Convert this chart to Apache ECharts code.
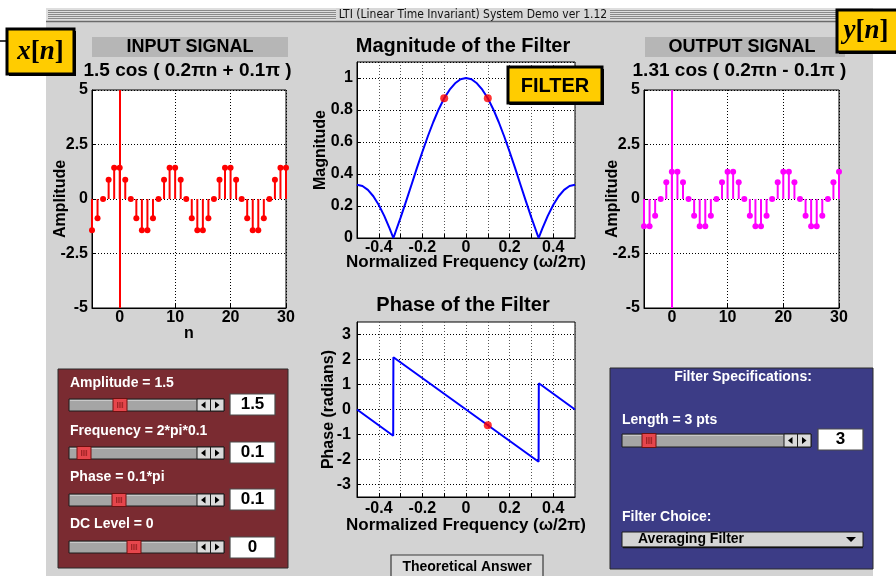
<!DOCTYPE html>
<html>
<head>
<meta charset="utf-8">
<title>LTI System Demo</title>
<script src="https://cdn.jsdelivr.net/npm/echarts@6/dist/echarts.min.js"></script>
<style>
  html, body { margin: 0; padding: 0; background: #fff; }
  #main { width: 896px; height: 576px; }
</style>
</head>
<body>
<div id="main"></div>
<script>
// ---- signal data ----
const sampleIndex = [-5, -4, -3, -2, -1, 0, 1, 2, 3, 4, 5, 6, 7, 8, 9, 10, 11, 12, 13, 14,
  15, 16, 17, 18, 19, 20, 21, 22, 23, 24, 25, 26, 27, 28, 29, 30];
const inputSignal = [-1.43, -0.88, 0, 0.88, 1.43, 1.43, 0.88, 0, -0.88, -1.43,
  -1.43, -0.88, 0, 0.88, 1.43, 1.43, 0.88, 0, -0.88, -1.43,
  -1.43, -0.88, 0, 0.88, 1.43, 1.43, 0.88, 0, -0.88, -1.43,
  -1.43, -0.88, 0, 0.88, 1.43, 1.43];
const outputSignal = [-1.25, -1.25, -0.77, 0, 0.77, 1.25, 1.25, 0.77, 0, -0.77,
  -1.25, -1.25, -0.77, 0, 0.77, 1.25, 1.25, 0.77, 0, -0.77,
  -1.25, -1.25, -0.77, 0, 0.77, 1.25, 1.25, 0.77, 0, -0.77,
  -1.25, -1.25, -0.77, 0, 0.77, 1.25];

// ---- filter response data ----
const magFreq = [-0.5, -0.475, -0.45, -0.425, -0.4, -0.375, -0.35, -0.3333, -0.325, -0.3,
  -0.275, -0.25, -0.225, -0.2, -0.175, -0.15, -0.125, -0.1, -0.075, -0.05, -0.025, 0,
  0.025, 0.05, 0.075, 0.1, 0.125, 0.15, 0.175, 0.2, 0.225, 0.25, 0.275, 0.3, 0.325,
  0.3333, 0.35, 0.375, 0.4, 0.425, 0.45, 0.475, 0.5];
const magValues = [0.333, 0.325, 0.301, 0.261, 0.206, 0.138, 0.059, 0, 0.031, 0.127,
  0.229, 0.333, 0.438, 0.539, 0.636, 0.725, 0.805, 0.873, 0.927, 0.967, 0.992, 1,
  0.992, 0.967, 0.927, 0.873, 0.805, 0.725, 0.636, 0.539, 0.438, 0.333, 0.229, 0.127, 0.031,
  0, 0.059, 0.138, 0.206, 0.261, 0.301, 0.325, 0.333];
const phaseFreq = [-0.5, -0.334, -0.3335, -0.333, 0.333, 0.3335, 0.334, 0.5];
const phaseValues = [0, -1.05, 0.55, 2.09, -2.09, -0.48, 1.05, 0];
const markFreq = [-0.1, 0.1];
const markMag = [0.873, 0.873];
const markPhaseFreq = [0.1];
const markPhase = [-0.63];

// ---- tick labels ----
const sampleTicks = [0, 10, 20, 30];
const phaseTicks = [-3, -2, -1, 0, 1, 2, 3];

const SANS = '"Liberation Sans", Arial, Helvetica, sans-serif';
const SERIF = '"Liberation Serif", "Times New Roman", serif';

const zip = (a, b) => a.map((v, i) => [v, b[i]]);

// ---- interface panels drawn as graphic elements ----
const gui = [];
function rect(x, y, w, h, fill, stroke, lw, z) {
  gui.push({ type: 'rect', silent: true, z: z == null ? 50 : z,
    shape: { x: x, y: y, width: w, height: h },
    style: { fill: fill || 'none', stroke: stroke || null, lineWidth: lw || 0 } });
}
function seg(x1, y1, x2, y2, stroke, lw, z) {
  gui.push({ type: 'line', silent: true, z: z == null ? 51 : z,
    shape: { x1: x1, y1: y1, x2: x2, y2: y2 },
    style: { stroke: stroke, lineWidth: lw || 1 } });
}
function poly(points, fill, z) {
  gui.push({ type: 'polygon', silent: true, z: z == null ? 52 : z,
    shape: { points: points }, style: { fill: fill } });
}
function label(str, x, y, font, fill, align, z) {
  gui.push({ type: 'text', silent: true, z: z == null ? 60 : z,
    style: { text: str, x: x, y: y, font: font, fill: fill,
      align: align || 'left', verticalAlign: 'middle',
      textAlign: align || 'left', textVerticalAlign: 'middle' } });
}
function slider(x, y, w, h, thumbX) {
  rect(x, y, w, h, '#a5a5a5', '#1c1c1c', 1);
  seg(x + 1, y + 1.5, x + w - 28, y + 1.5, '#c9c9c9', 1);
  rect(x + w - 27, y, 13.5, h, '#dadada', '#1c1c1c', 1);
  rect(x + w - 13.5, y, 13.5, h, '#dadada', '#1c1c1c', 1);
  const cy = y + h / 2;
  poly([[x + w - 23, cy], [x + w - 18.5, cy - 3.5], [x + w - 18.5, cy + 3.5]], '#000');
  poly([[x + w - 4.5, cy], [x + w - 9, cy - 3.5], [x + w - 9, cy + 3.5]], '#000');
  rect(thumbX, y - 0.5, 14, h + 1, '#e6464c', '#6e1010', 1, 53);
  for (let k = 0; k < 4; k++) {
    seg(thumbX + 4.5 + k * 1.7, y + 3, thumbX + 4.5 + k * 1.7, y + h - 3, '#8e1c1c', 0.8, 54);
  }
}
function valueBox(x, y, w, h, str) {
  rect(x, y, w, h, '#ffffff', '#4a4a4a', 1.2);
  label(str, x + w / 2, y + h / 2, 'bold 17px ' + SANS, '#000', 'center');
}
function tagBox(x, y, w, h) {
  rect(x + 2, y + 2, w, h, '#000', null, 0, 70);
  rect(x, y, w, h, '#ffcc00', '#000', 3, 71);
}

// window body and title bar
rect(46, 8, 827, 568, '#d3d3d3', null, 0, -20);
rect(46, 8, 827, 13, '#dedede', null, 0, -19);
for (let k = 0; k < 5; k++) seg(48, 10.5 + 2 * k, 871, 10.5 + 2 * k, '#8a8a8a', 1, -18);
rect(336, 8, 274, 13, '#d8d8d8', null, 0, -17);
label('LTI (Linear Time Invariant) System Demo ver 1.12', 473, 15,
  '12px "Liberation Sans Narrow", "DejaVu Sans Condensed", ' + SANS, '#111', 'center', -16);
seg(46, 21.5, 873, 21.5, '#6a6a6a', 1.5, -16);

// signal headers
rect(92, 37, 196, 20, '#b6b6b6', null, 0, -15);
label('INPUT SIGNAL', 190, 47.5, 'bold 18px ' + SANS, '#000', 'center');
label('1.5 cos ( 0.2\u03c0n + 0.1\u03c0 )', 187.5, 71, 'bold 19px ' + SANS, '#000', 'center');
rect(645, 37, 200, 20, '#b6b6b6', null, 0, -15);
label('OUTPUT SIGNAL', 742, 47.5, 'bold 18px ' + SANS, '#000', 'center');
label('1.31 cos ( 0.2\u03c0n - 0.1\u03c0 )', 739.5, 71, 'bold 19px ' + SANS, '#000', 'center');

// plot titles
label('Magnitude of the Filter', 463, 46.5, 'bold 20px ' + SANS, '#000', 'center');
label('Phase of the Filter', 463, 305, 'bold 20px ' + SANS, '#000', 'center');

// x[n], y[n] and FILTER tags
seg(0, 41, 7, 41, '#000', 1.5, 69);
tagBox(7, 29, 67, 45);
gui.push({ type: 'text', silent: true, z: 72,
  style: { text: '{i|x}{r|[}{i|n}{r|]}', x: 40.5, y: 52, fill: '#000',
    align: 'center', verticalAlign: 'middle', textAlign: 'center', textVerticalAlign: 'middle',
    rich: { i: { font: 'italic bold 27px ' + SERIF, fill: '#000' },
            r: { font: 'bold 27px ' + SERIF, fill: '#000' } } } });
tagBox(837, 10, 70, 42);
gui.push({ type: 'text', silent: true, z: 72,
  style: { text: '{i|y}{r|[}{i|n}{r|]}', x: 866, y: 31, fill: '#000',
    align: 'center', verticalAlign: 'middle', textAlign: 'center', textVerticalAlign: 'middle',
    rich: { i: { font: 'italic bold 27px ' + SERIF, fill: '#000' },
            r: { font: 'bold 27px ' + SERIF, fill: '#000' } } } });
tagBox(508, 67, 94, 36);
gui.push({ type: 'text', silent: true, z: 72,
  style: { text: 'FILTER', x: 555, y: 86, font: 'bold 20px ' + SANS, fill: '#000',
    align: 'center', verticalAlign: 'middle', textAlign: 'center', textVerticalAlign: 'middle' } });

// input controls
rect(58, 369, 230, 199, '#7a2b31', '#2a2a2a', 1, 40);
const LBL = 'bold 14px ' + SANS;
label('Amplitude = 1.5', 70, 383, LBL, '#fff');
slider(69, 399, 155, 12, 113);
valueBox(230, 394, 45, 21, '1.5');
label('Frequency = 2*pi*0.1', 70, 431, LBL, '#fff');
slider(69, 447, 155, 12, 77);
valueBox(230, 442, 45, 21, '0.1');
label('Phase = 0.1*pi', 70, 477.5, LBL, '#fff');
slider(69, 494, 155, 12, 112);
valueBox(230, 489, 45, 21, '0.1');
label('DC Level = 0', 70, 524.5, LBL, '#fff');
slider(69, 541, 155, 12, 127);
valueBox(230, 537, 45, 21, '0');

// filter controls
rect(610, 368, 263, 201, '#3c3c86', '#2a2a2a', 1, 40);
label('Filter Specifications:', 743, 377.5, LBL, '#fff', 'center');
label('Length = 3 pts', 622, 420, LBL, '#fff');
slider(622, 434, 189, 13, 642);
valueBox(818, 429, 45, 21, '3');
label('Filter Choice:', 622, 517, LBL, '#fff');
rect(622, 532, 241, 15, '#d4d4d4', '#1c1c1c', 1);
seg(623, 547.5, 863, 547.5, '#111', 1.5);
label('Averaging Filter', 638, 539.5, 'bold 14px ' + SANS, '#000');
poly([[846, 537], [856, 537], [851, 542]], '#000');

// answer button
rect(391, 555, 152, 25, '#dadada', '#3a3a3a', 1.2);
label('Theoretical Answer', 467, 567, 'bold 14px ' + SANS, '#000', 'center');

// ---- axes ----
const tickFont = { color: '#000', fontFamily: SANS, fontWeight: 'bold', fontSize: 16 };
const nameFont = { color: '#000', fontFamily: SANS, fontWeight: 'bold', fontSize: 16 };
const freqNameFont = { color: '#000', fontFamily: SANS, fontWeight: 'bold', fontSize: 17 };
const blackLine = { onZero: false, lineStyle: { color: '#000', width: 1 } };
const hGrid = { show: true, lineStyle: { color: '#000', width: 1, type: [1, 2] } };
const vGrid = { show: true, lineStyle: { color: '#555', width: 1, type: [1, 2] } };
const freqLabel = (v) => {
  const k = Math.round(v * 10);
  if (k % 2 !== 0 || Math.abs(k) > 4) return '';
  return k === 0 ? '0' : (k / 10).toFixed(1);
};

function stemRenderer(color) {
  return function (params, api) {
    const p0 = api.coord([api.value(0), 0]);
    const p1 = api.coord([api.value(0), api.value(1)]);
    return { type: 'group', children: [
      { type: 'line', shape: { x1: p0[0], y1: p0[1], x2: p1[0], y2: p1[1] },
        style: { stroke: color, lineWidth: 2 } },
      { type: 'circle', shape: { cx: p1[0], cy: p1[1], r: 3 }, style: { fill: color } }
    ] };
  };
}

const option = {
  backgroundColor: '#ffffff',
  animation: false,
  graphic: { elements: gui },
  grid: [
    { left: 92, top: 90, width: 194, height: 218, show: true, backgroundColor: '#fff', borderColor: '#000', borderWidth: 1 },
    { left: 357, top: 62, width: 218, height: 176, show: true, backgroundColor: '#fff', borderColor: '#000', borderWidth: 1 },
    { left: 644, top: 90, width: 195, height: 218, show: true, backgroundColor: '#fff', borderColor: '#000', borderWidth: 1 },
    { left: 357, top: 322, width: 218, height: 175, show: true, backgroundColor: '#fff', borderColor: '#000', borderWidth: 1 }
  ],
  xAxis: [
    { gridIndex: 0, type: 'value', min: -5, max: 30, name: 'n', nameLocation: 'middle', nameGap: 18,
      nameMoveOverlap: false, nameTextStyle: nameFont, axisLine: blackLine,
      axisTick: { inside: true, length: 4, customValues: sampleTicks, lineStyle: { color: '#000' } },
      axisLabel: Object.assign({ customValues: sampleTicks, margin: 2 }, tickFont), splitLine: hGrid },
    { gridIndex: 1, type: 'value', min: -0.5, max: 0.5, interval: 0.1,
      name: 'Normalized Frequency (\u03c9/2\u03c0)', nameLocation: 'middle', nameGap: 16,
      nameMoveOverlap: false, nameTextStyle: freqNameFont, axisLine: blackLine,
      axisTick: { inside: true, length: 4, lineStyle: { color: '#000' } },
      axisLabel: Object.assign({ margin: 2, formatter: freqLabel, showMinLabel: false, showMaxLabel: false }, tickFont),
      splitLine: vGrid },
    { gridIndex: 2, type: 'value', min: -5, max: 30, axisLine: blackLine,
      axisTick: { inside: true, length: 4, customValues: sampleTicks, lineStyle: { color: '#000' } },
      axisLabel: Object.assign({ customValues: sampleTicks, margin: 2 }, tickFont), splitLine: hGrid },
    { gridIndex: 3, type: 'value', min: -0.5, max: 0.5, interval: 0.1,
      name: 'Normalized Frequency (\u03c9/2\u03c0)', nameLocation: 'middle', nameGap: 20,
      nameMoveOverlap: false, nameTextStyle: freqNameFont, axisLine: blackLine,
      axisTick: { inside: true, length: 4, lineStyle: { color: '#000' } },
      axisLabel: Object.assign({ margin: 4, formatter: freqLabel, showMinLabel: false, showMaxLabel: false }, tickFont),
      splitLine: vGrid }
  ],
  yAxis: [
    { gridIndex: 0, type: 'value', min: -5, max: 5, interval: 2.5, name: 'Amplitude',
      nameLocation: 'middle', nameGap: 23, nameMoveOverlap: false, nameTextStyle: nameFont, axisLine: blackLine,
      axisTick: { inside: true, length: 4, lineStyle: { color: '#000' } },
      axisLabel: Object.assign({ margin: 4 }, tickFont), splitLine: hGrid },
    { gridIndex: 1, type: 'value', min: 0, max: 1.1, interval: 0.2, name: 'Magnitude',
      nameLocation: 'middle', nameGap: 28, nameMoveOverlap: false, nameTextStyle: nameFont, axisLine: blackLine,
      axisTick: { inside: true, length: 4, lineStyle: { color: '#000' } },
      axisLabel: Object.assign({ margin: 4, showMaxLabel: false,
        formatter: (v) => v > 1.05 ? '' : (v === 0 ? '0' : (Math.abs(v - 1) < 1e-6 ? '1' : v.toFixed(1))) }, tickFont),
      splitLine: hGrid },
    { gridIndex: 2, type: 'value', min: -5, max: 5, interval: 2.5, name: 'Amplitude',
      nameLocation: 'middle', nameGap: 23, nameMoveOverlap: false, nameTextStyle: nameFont, axisLine: blackLine,
      axisTick: { inside: true, length: 4, lineStyle: { color: '#000' } },
      axisLabel: Object.assign({ margin: 4 }, tickFont), splitLine: hGrid },
    { gridIndex: 3, type: 'value', min: -3.5, max: 3.5, name: 'Phase (radians)',
      nameLocation: 'middle', nameGap: 20, nameMoveOverlap: false, nameTextStyle: nameFont, axisLine: blackLine,
      axisTick: { inside: true, length: 4, customValues: phaseTicks, lineStyle: { color: '#000' } },
      axisLabel: Object.assign({ margin: 6, customValues: phaseTicks }, tickFont), splitLine: hGrid }
  ],
  series: [
    { type: 'custom', xAxisIndex: 0, yAxisIndex: 0, renderItem: stemRenderer('#ff0000'),
      data: zip(sampleIndex, inputSignal), encode: { x: 0, y: 1 }, z: 5,
      markLine: { silent: true, symbol: 'none', label: { show: false },
        lineStyle: { color: '#ff0000', width: 2, type: 'solid' }, data: [{ xAxis: 0 }] } },
    { type: 'line', xAxisIndex: 1, yAxisIndex: 1, data: zip(magFreq, magValues),
      showSymbol: false, lineStyle: { color: '#0000ff', width: 2 }, z: 5 },
    { type: 'scatter', xAxisIndex: 1, yAxisIndex: 1, data: zip(markFreq, markMag),
      symbolSize: 8, itemStyle: { color: '#ff0000' }, z: 6 },
    { type: 'custom', xAxisIndex: 2, yAxisIndex: 2, renderItem: stemRenderer('#ff00ff'),
      data: zip(sampleIndex, outputSignal), encode: { x: 0, y: 1 }, z: 5,
      markLine: { silent: true, symbol: 'none', label: { show: false },
        lineStyle: { color: '#ff00ff', width: 2, type: 'solid' }, data: [{ xAxis: 0 }] } },
    { type: 'line', xAxisIndex: 3, yAxisIndex: 3, data: zip(phaseFreq, phaseValues),
      showSymbol: false, lineStyle: { color: '#0000ff', width: 2 }, z: 5 },
    { type: 'scatter', xAxisIndex: 3, yAxisIndex: 3, data: zip(markPhaseFreq, markPhase),
      symbolSize: 8, itemStyle: { color: '#ff0000' }, z: 6 }
  ]
};

const chart = echarts.init(document.getElementById('main'), null, { renderer: 'canvas' });
chart.setOption(option);
</script>
</body>
</html>
